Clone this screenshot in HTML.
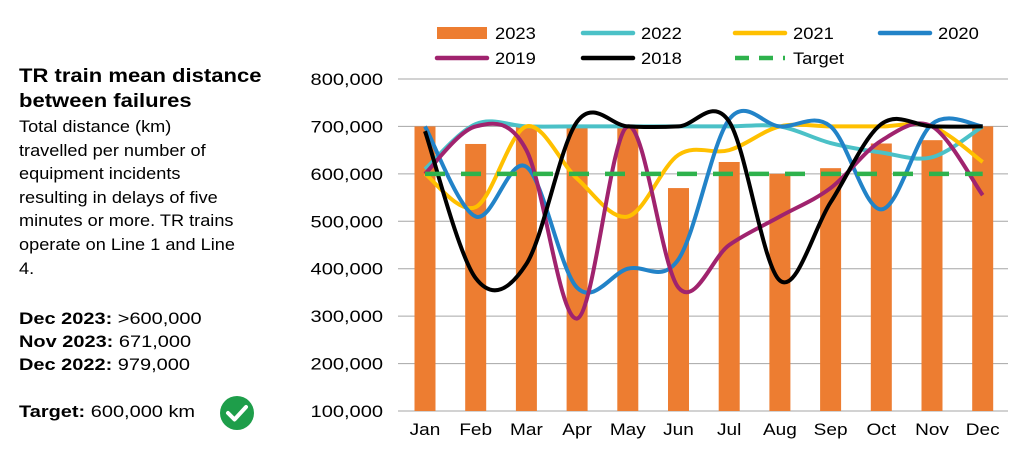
<!DOCTYPE html>
<html><head><meta charset="utf-8"><style>
body{margin:0;width:1024px;height:450px;background:#fff;font-family:"Liberation Sans",sans-serif;overflow:hidden;position:relative}
.side{position:absolute;left:19px;color:#000;white-space:nowrap;transform-origin:0 0}
</style></head><body>
<div class="side" style="top:64px;font-weight:bold;font-size:19.5px;line-height:25px;transform:scaleX(1.13)">TR train mean distance<br>between failures</div>
<div class="side" style="top:116px;font-size:16.5px;line-height:23.6px;transform:scaleX(1.1)">Total distance (km)<br>travelled per number of<br>equipment incidents<br>resulting in delays of five<br>minutes or more. TR trains<br>operate on Line 1 and Line<br>4.</div>
<div class="side" style="top:310px;font-size:16.5px;transform:scaleX(1.21)"><b>Dec 2023:</b> &gt;600,000</div>
<div class="side" style="top:333px;font-size:16.5px;transform:scaleX(1.21)"><b>Nov 2023:</b> 671,000</div>
<div class="side" style="top:356px;font-size:16.5px;transform:scaleX(1.21)"><b>Dec 2022:</b> 979,000</div>
<div class="side" style="top:403px;font-size:16.5px;transform:scaleX(1.21)"><b>Target:</b> 600,000 km</div>
<svg style="position:absolute;left:219px;top:395px" width="36" height="36"><circle cx="18" cy="18" r="17" fill="#1e9e4a"/><path d="M9 18 L15.5 24.5 L27 12" stroke="#fff" stroke-width="4" fill="none" stroke-linecap="round" stroke-linejoin="round"/></svg>
<svg id="c" width="1024" height="450" style="position:absolute;left:0;top:0"></svg>
<script>
const months=["Jan","Feb","Mar","Apr","May","Jun","Jul","Aug","Sep","Oct","Nov","Dec"];
const yTicks=[100000,200000,300000,400000,500000,600000,700000,800000];
const s2023=[700000,663000,700000,700000,700000,570000,625000,600000,612000,664000,671000,700000];
const s2022=[610000,705000,700000,700000,700000,700000,700000,700000,665000,645000,635000,700000];
const s2021=[600000,530000,700000,590000,510000,640000,650000,700000,700000,700000,700000,625000];
const s2020=[700000,510000,615000,360000,400000,420000,715000,700000,700000,525000,705000,700000];
const s2019=[600000,700000,650000,295000,700000,360000,450000,510000,570000,670000,700000,555000];
const s2018=[690000,380000,410000,710000,700000,700000,710000,375000,540000,705000,700000,700000];
const target=[600000,600000,600000,600000,600000,600000,600000,600000,600000,600000,600000,600000];
const svg=document.getElementById('c');const NS='http://www.w3.org/2000/svg';
function el(t,a,p){const e=document.createElementNS(NS,t);for(const k in a)e.setAttribute(k,a[k]);(p||svg).appendChild(e);return e;}
const x=i=>425+i*50.7, y=v=>411-(v-100000)/100000*47.43;
yTicks.forEach(v=>{const l=el('line',{x1:398,x2:1008,y1:y(v),y2:y(v),stroke:'#a6a6a6','stroke-width':1});


const t=el('text',{transform:'translate(383,'+(y(v)+6)+') scale(1.18,1)','text-anchor':'end','font-size':17,fill:'#000'});t.textContent=v.toLocaleString('en-US');

});
months.forEach((m,i)=>{const t=el('text',{transform:'translate('+x(i)+',435) scale(1.12,1)','text-anchor':'middle','font-size':17});t.textContent=m;

});
s2023.forEach((v,i)=>{const r=el('rect',{x:x(i)-10.5,y:y(v),width:21,height:y(100000)-y(v),fill:'#ed7d31'});

});
function smooth(d){const p=d.map((v,i)=>[x(i),y(v)]);let s='M'+p[0];for(let i=0;i<p.length-1;i++){const a=p[i-1]||p[i],b=p[i],c=p[i+1],e=p[i+2]||c;const t=1/6;s+=' C'+(b[0]+(c[0]-a[0])*t)+','+(b[1]+(c[1]-a[1])*t)+' '+(c[0]-(e[0]-b[0])*t)+','+(c[1]-(e[1]-b[1])*t)+' '+c;}return s;}
const series=[[s2022,'#4bc1c7','2022'],[s2021,'#ffc000','2021'],[s2020,'#2283c8','2020'],[s2019,'#a0236e','2019'],[s2018,'#000','2018']];
series.forEach(s=>{const p=el('path',{d:smooth(s[0]),fill:'none',stroke:s[1],'stroke-width':4});

});
const tg=el('path',{d:'M'+target.map((v,i)=>x(i)+','+y(v)).join(' L'),fill:'none',stroke:'#2eb24c','stroke-width':4.5,'stroke-dasharray':'20 16'});


const leg=[['2023','#ed7d31',437,33,0],['2022','#4bc1c7',583,33,0],['2021','#ffc000',735,33,0],['2020','#2283c8',880,33,0],['2019','#a0236e',437,58,0],['2018','#000',583,58,0],['Target','#2eb24c',735,58,1]];
leg.forEach(l=>{const g=el('g',{});


if(l[0]==='2023')el('rect',{x:l[2],y:l[3]-6,width:50,height:12,fill:l[1]},g);
else el('line',{x1:l[2],x2:l[2]+50,y1:l[3],y2:l[3],stroke:l[1],'stroke-width':4.5,'stroke-dasharray':l[4]?'14 10':'none','stroke-linecap':l[4]?'butt':'round'},g);
const t=el('text',{transform:'translate('+(l[2]+58)+','+(l[3]+6)+') scale(1.08,1)','font-size':17},g);t.textContent=l[0];});
</script>
</body></html>
